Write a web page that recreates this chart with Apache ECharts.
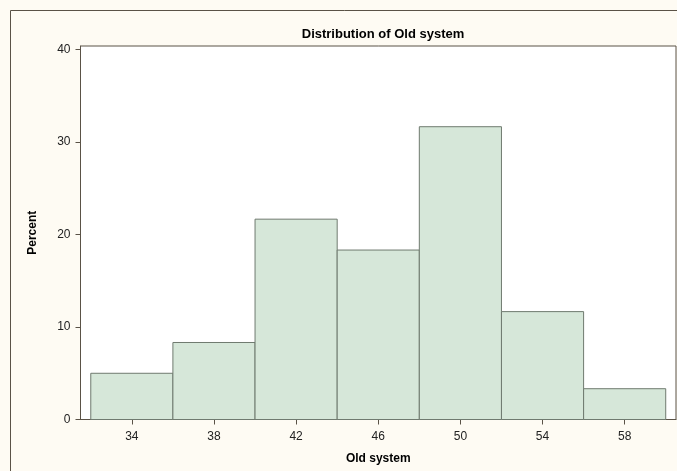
<!DOCTYPE html>
<html>
<head>
<meta charset="utf-8">
<script src="https://cdn.jsdelivr.net/npm/echarts@6/dist/echarts.min.js"></script>
<style>
html,body{margin:0;padding:0;background:#fefbf3;}
#chart{width:677px;height:471px;}
</style>
</head>
<body>
<div id="chart"></div>
<script>
const binMidpoints = [34, 38, 42, 46, 50, 54, 58];
const percents = [5.0, 8.33, 21.67, 18.33, 31.67, 11.67, 3.33];
const binWidth = 4;
const yTicks = [0, 10, 20, 30, 40];
const xTicks = [34, 38, 42, 46, 50, 54, 58];

const chart = echarts.init(document.getElementById('chart'), null, {renderer: 'canvas'});
const data = binMidpoints.map((m, i) => [m, percents[i]]);
const axisColor = '#5a5246';
const font = 'Liberation Sans, Arial, sans-serif';

chart.setOption({
  backgroundColor: '#fefbf3',
  animation: false,
  title: {
    text: 'Distribution of Old system',
    left: 378, top: 23, textAlign: 'center',
    textStyle: {fontFamily: font, fontSize: 13, fontWeight: 'bold', color: '#000'}
  },
  graphic: [{
    type: 'rect', silent: true, z: -10,
    shape: {x: 10.5, y: 10.5, width: 700, height: 500},
    style: {fill: 'none', stroke: axisColor, lineWidth: 1}
  }],
  grid: {
    left: 80.5, top: 46, right: 1, bottom: 51.5,
    show: true, backgroundColor: '#ffffff', borderColor: axisColor, borderWidth: 1
  },
  xAxis: {
    type: 'value', min: 31.5, max: 60.5,
    name: 'Old system', nameLocation: 'middle', nameGap: 33,
    nameTextStyle: {fontFamily: font, fontSize: 12, fontWeight: 'bold', color: '#000'},
    axisLine: {show: true, lineStyle: {color: axisColor}},
    axisTick: {show: true, length: 5, lineStyle: {color: axisColor}, customValues: xTicks},
    axisLabel: {fontFamily: font, fontSize: 12, color: '#222', margin: 11, customValues: xTicks},
    splitLine: {show: false}
  },
  yAxis: {
    type: 'value', min: 0, max: 40.4,
    name: 'Percent', nameLocation: 'middle', nameGap: 42,
    nameTextStyle: {fontFamily: font, fontSize: 12, fontWeight: 'bold', color: '#000'},
    axisLine: {show: true, lineStyle: {color: axisColor}},
    axisTick: {show: true, length: 5, lineStyle: {color: axisColor}, customValues: yTicks},
    axisLabel: {fontFamily: font, fontSize: 12, color: '#222', margin: 10, customValues: yTicks},
    splitLine: {show: false}
  },
  series: [{
    type: 'custom',
    data: data,
    renderItem: function (params, api) {
      const m = api.value(0), v = api.value(1);
      const p0 = api.coord([m - binWidth / 2, v]);
      const p1 = api.coord([m + binWidth / 2, 0]);
      return {
        type: 'rect',
        shape: {x: p0[0], y: p0[1], width: p1[0] - p0[0], height: p1[1] - p0[1]},
        style: {fill: '#d6e7d9', stroke: '#6f7a6f', lineWidth: 1}
      };
    }
  }]
});
</script>
</body>
</html>
